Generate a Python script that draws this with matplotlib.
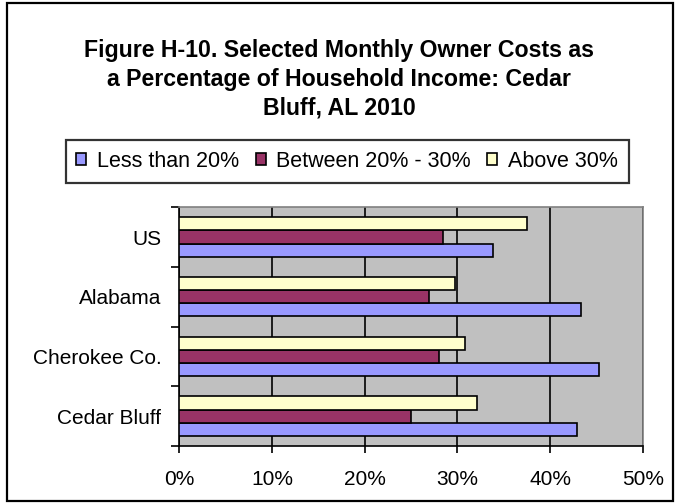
import matplotlib.pyplot as plt
from matplotlib.patches import Rectangle
import numpy as np

plt.rcParams['font.family'] = ['Liberation Sans', 'DejaVu Sans']

# data (percent)
places = ['Cedar Bluff', 'Cherokee Co.', 'Alabama', 'US']
less_20 = [42.9, 45.3, 43.3, 33.8]
btw_20_30 = [25.0, 28.0, 26.9, 28.4]
above_30 = [32.1, 30.8, 29.7, 37.5]
series_names = ['Less than 20%', 'Between 20% - 30%', 'Above 30%']
colors = ['#9999FF', '#993366', '#FFFFCC']

fig = plt.figure(figsize=(6.78, 5.04), dpi=100)
fig.patches.append(Rectangle((0.011, 0.006), 0.981, 0.988, transform=fig.transFigure,
                             fill=False, edgecolor='black', linewidth=1.6))

ax = fig.add_axes([0.2645, 0.115, 0.6835, 0.474])
ax.set_facecolor('#C0C0C0')

y = np.arange(len(places))
h = 0.22
bars = []
for i, (vals, c) in enumerate(zip([less_20, btw_20_30, above_30], colors)):
    b = ax.barh(y + (i - 1) * h, vals, height=h, color=c, edgecolor='black',
                linewidth=1.2, label=series_names[i], zorder=3)
    bars.append(b)

ax.set_xlim(0, 50)
ax.set_ylim(-0.5, len(places) - 0.5)
ax.set_xticks(np.arange(0, 51, 10))
ax.set_xticklabels([f'{v}%' for v in range(0, 51, 10)], fontsize=15)
ax.set_yticks(y)
ax.set_yticklabels(places, fontsize=15)
ax.set_yticks(np.arange(-0.5, len(places), 1), minor=True)
ax.tick_params(axis='y', which='major', length=0, pad=13)
ax.tick_params(axis='y', which='minor', length=6, width=1.2, direction='out')
ax.tick_params(axis='x', length=5, width=1.2, direction='out', pad=12)
ax.grid(axis='x', color='black', linewidth=1.2, zorder=1)
ax.set_axisbelow(True)
for s in ['top', 'right']:
    ax.spines[s].set_color('#808080')
    ax.spines[s].set_linewidth(1.2)
for s in ['left', 'bottom']:
    ax.spines[s].set_color('black')
    ax.spines[s].set_linewidth(1.2)

fig.text(0.5, 0.842, 'Figure H-10. Selected Monthly Owner Costs as\n'
         'a Percentage of Household Income: Cedar\nBluff, AL 2010',
         ha='center', va='center', fontsize=16.7, fontweight='bold', linespacing=1.32)

leg = fig.legend(handles=bars, labels=series_names, loc='center',
                 bbox_to_anchor=(0.512, 0.680), ncol=3, fontsize=15.5,
                 frameon=True, fancybox=False, edgecolor='black',
                 handlelength=0.47, handleheight=0.47, handletextpad=0.5,
                 columnspacing=0.75, borderpad=0.5, borderaxespad=0)
leg.get_frame().set_linewidth(1.6)

fig.savefig('out.png', dpi=100)
